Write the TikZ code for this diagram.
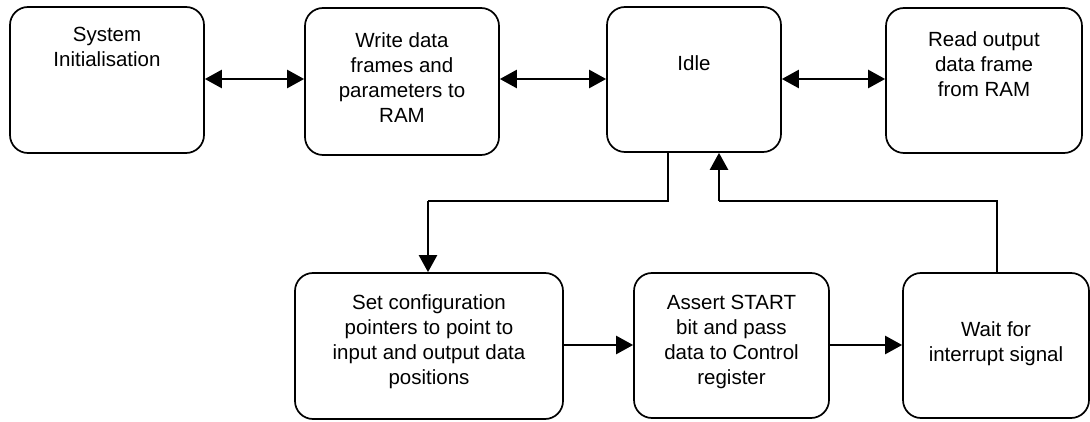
\documentclass[tikz,border=0pt]{standalone}
\usepackage{fontspec}
\setmainfont{Liberation Sans}
\usetikzlibrary{arrows.meta}
\begin{document}
\begin{tikzpicture}[x=1pt,y=-1pt,
  box/.style={draw=black,line width=1.7pt,rounded corners=18pt,minimum width=#1,inner sep=0pt},
  lbl/.style={align=center,font=\fontsize{20.5pt}{25pt}\selectfont,inner sep=0pt,anchor=north},
  conn/.style={line width=2.4pt,-{Triangle[length=17pt,width=18pt]}},
  biconn/.style={line width=2.4pt,{Triangle[length=17pt,width=18pt]}-{Triangle[length=17pt,width=18pt]}},
  plain/.style={line width=1.6pt}]
\useasboundingbox (0,0) rectangle (1090,422);
% boxes
\node[box=194pt,minimum height=146pt] (b1) at (107,80) {};
\node[box=194pt,minimum height=147pt] (b2) at (402,81.5) {};
\node[box=174pt,minimum height=145pt] (b3) at (694,79.5) {};
\node[box=196pt,minimum height=145pt] (b4) at (984,80.5) {};
\node[box=268pt,minimum height=146pt] (b5) at (429,346) {};
\node[box=195pt,minimum height=145pt] (b6) at (731.5,345.5) {};
\node[box=186pt,minimum height=145pt] (b7) at (996,345.5) {};
% labels
\node[lbl] (t1) at (107,27) {System\\Initialisation};
\node[lbl] (t2) at (402,32) {Write data\\frames and\\parameters to\\RAM};
\node[lbl] (t3) at (694,55) {Idle};
\node[lbl] (t4) at (984,31) {Read output\\data frame\\from RAM};
\node[lbl] (t5) at (429,294) {Set configuration\\pointers to point to\\input and output data\\positions};
\node[lbl] (t6) at (731.5,295) {Assert START\\bit and pass\\data to Control\\register};
\node[lbl] (t7) at (996,321) {Wait for\\interrupt signal};
% connectors
\draw[biconn] (b1.east |- 0,79) -- (b2.west |- 0,79);
\draw[biconn] (b2.east |- 0,79) -- (b3.west |- 0,79);
\draw[biconn] (b3.east |- 0,79) -- (b4.west |- 0,79);
\draw[conn] (b5.east |- 0,345) -- (b6.west |- 0,345);
\draw[conn] (b6.east |- 0,345) -- (b7.west |- 0,345);
\coordinate (c1) at (668,201);
\coordinate (c2) at (428,201);
\coordinate (c3) at (997,201);
\coordinate (c4) at (719,201);
\draw[plain] (b3.south -| c1) -- (c1) -- (c2);
\draw[conn] (c2) -- (b5.north -| c2);
\draw[plain] (b7.north -| c3) -- (c3) -- (c4);
\draw[conn] (c4) -- (b3.south -| c4);
\end{tikzpicture}
\end{document}
